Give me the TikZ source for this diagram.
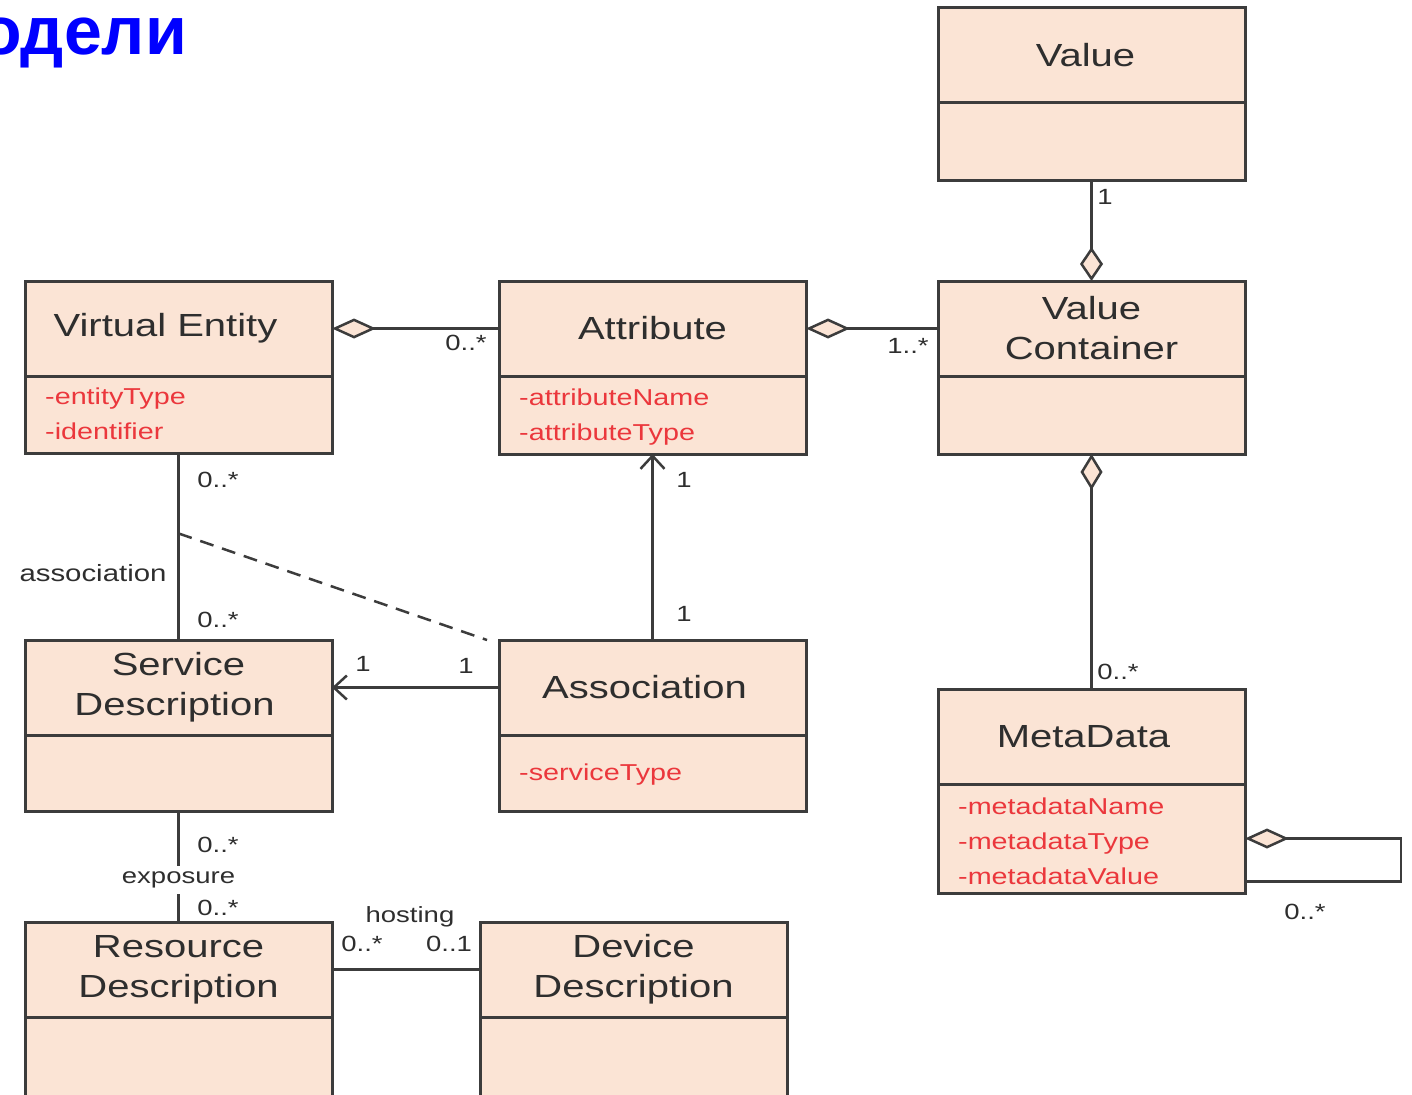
\documentclass[tikz,border=0pt]{standalone}
\usepackage{fontspec}
\usetikzlibrary{arrows.meta,calc}
\setmainfont{Liberation Sans}
\newfontfamily\umlfont[FakeStretch=1.25]{Liberation Sans}
\newfontfamily\headfont{Liberation Sans}
\definecolor{classfill}{HTML}{FBE4D5}
\definecolor{classline}{HTML}{3C3C3C}
\definecolor{labeltext}{HTML}{2E2E2E}
\definecolor{attrred}{HTML}{EB373C}
\definecolor{headblue}{HTML}{0000FF}

\tikzset{
  classhead/.style={draw=classline, fill=classfill, line width=3pt,
    minimum width=307pt, minimum height=95pt, inner sep=0pt, outer sep=0pt,
    anchor=north west, align=center, text=labeltext,
    font=\umlfont\fontsize{32}{40}\selectfont},
  classbody/.style={draw=classline, fill=classfill, line width=3pt,
    minimum width=307pt, inner sep=0pt, outer sep=0pt, anchor=north},
  attrline/.style={anchor=base west, inner sep=0pt, text=attrred,
    font=\umlfont\fontsize{23}{28}\selectfont},
  mult/.style={inner sep=0pt, text=labeltext,
    font=\umlfont\fontsize{22}{26}\selectfont},
  link/.style={draw=classline, line width=2.5pt},
  hdiamond/.style={{Diamond[length=44pt,width=20pt,fill=classfill]}-},
  vdiamond/.style={{Diamond[length=36pt,width=22pt,fill=classfill]}-},
  vdiamondend/.style={-{Diamond[length=34pt,width=23pt,fill=classfill]}},
  navarrow/.style={-{Straight Barb[length=13pt,width=24pt]}},
}

% class box: name, x, y, title, body height, first baseline offset, attributes
\newcommand\umlclass[7]{%
  \node[classhead] (#1) at (#2,#3) {#4};
  \node[classbody, minimum height=#5pt] (#1b) at (#1.south) {};
  \foreach \a [count=\i from 0] in {#7} {
    \node[attrline] (#1a\i) at ($(#1b.north west)+(20,#6+35*\i)$) {\a};
  }
}
% trailing space that pulls a centred title to the left
\newcommand\pullleft[1]{\hspace*{#1pt}}

\begin{document}
\begin{tikzpicture}[x=1pt, y=-1pt]
\useasboundingbox (0,0) rectangle (1412,1094);
\clip (0,0) rectangle (1412,1094);

\node[anchor=base east, inner sep=0pt, text=headblue,
  font=\headfont\bfseries\fontsize{68}{80}\selectfont] (title) at (187,55) {одели};

\umlclass{value}{938}{8}{Value\pullleft{12}}{78}{28}{}
\umlclass{vc}{938}{281}{Value\\Container}{78}{28}{}
\umlclass{ve}{25}{281}{Virtual Entity\pullleft{26}}{77}{28}{-entityType,-identifier}
\umlclass{attr}{499}{281}{Attribute}{78}{29}{-attributeName,-attributeType}
\umlclass{sd}{25}{640}{Service\\Description\pullleft{8}}{76}{28}{}
\umlclass{assoc}{499}{640}{Association\pullleft{16}}{76}{45}{-serviceType}
\umlclass{md}{938}{689}{MetaData\pullleft{16}}{109}{30}{-metadataName,-metadataType,-metadataValue}
\umlclass{rd}{25}{922}{Resource\\Description}{100}{28}{}
\umlclass{dd}{480}{922}{Device\\Description}{100}{28}{}

% aggregations
\draw[link, vdiamondend] (valueb.south) -- (vc.north);
\draw[link, hdiamond] (ve.east) -- (attr.west);
\draw[link, hdiamond] (attr.east) -- (vc.west);
\draw[link, vdiamond] (vcb.south) -- (md.north);
\draw[link, hdiamond] (mdb.east) -- ++(156,0) |- ($(mdb.east)+(0,43)$);

% navigable associations
\draw[link, navarrow] (assoc.north) -- (attrb.south);
\draw[link, navarrow] (assoc.west) -- (sd.east);

% plain associations
\draw[link] (veb.south) -- coordinate[pos=0.43] (assocpt) (sd.north);
\coordinate (dashend) at ($(assoc.north west)+(-12,0)$);
\draw[link, dash pattern=on 14pt off 9pt] (assocpt) -- (dashend);
\draw[link] (sdb.south) -- node[pos=0.62, mult, fill=white, inner xsep=2pt, inner ysep=6pt] (expo) {exposure} (rd.north);
\draw[link] (rd.east) -- (dd.west);

% multiplicities and association names
\node[mult] (m1) at (1105,197) {1};
\node[mult] (m2) at (908,346) {1..*};
\node[mult] (m3) at (466,343) {0..*};
\node[mult] (m4) at (1118,672) {0..*};
\node[mult] (m5) at (684,480) {1};
\node[mult] (m6) at (684,614) {1};
\node[mult] (m7) at (363,664) {1};
\node[mult] (m8) at (466,666) {1};
\node[mult] (m9) at (218,480) {0..*};
\node[mult] (m10) at (218,620) {0..*};
\node[mult, font=\umlfont\fontsize{23.5}{26}\selectfont] (an1) at (93,573) {association};
\node[mult] (m11) at (218,845) {0..*};
\node[mult] (m12) at (218,908) {0..*};
\node[mult] (an2) at (410,917) {hosting};
\node[mult] (m13) at (362,944) {0..*};
\node[mult] (m14) at (449,944) {0..1};
\node[mult] (m15) at (1305,912) {0..*};
\end{tikzpicture}
\end{document}
